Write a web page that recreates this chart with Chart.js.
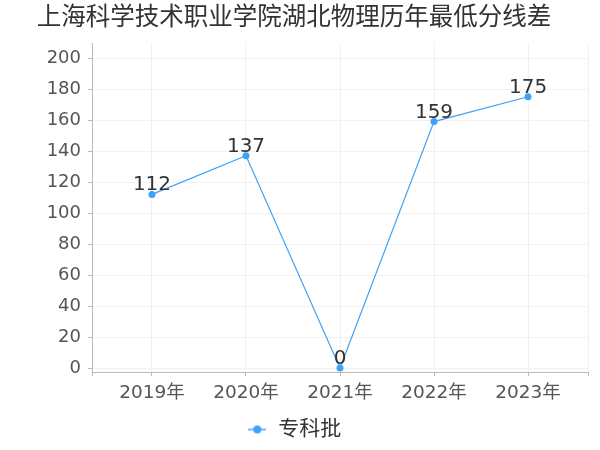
<!DOCTYPE html>
<html>
<head>
<meta charset="utf-8">
<script src="https://cdn.jsdelivr.net/npm/chart.js@4"></script>
<style>
    html, body { margin: 0; padding: 0; background: #fff; }
    #wrap { width: 600px; height: 450px; }
</style>
</head>
<body>
<div id="wrap"><canvas id="chart"></canvas></div>
<script>
const titleText = "上海科学技术职业学院湖北物理历年最低分线差";
const years = ["2019年", "2020年", "2021年", "2022年", "2023年"];
const seriesName = "专科批";
const seriesValues = [112, 137, 0, 159, 175];
const yTicks = [0, 20, 40, 60, 80, 100, 120, 140, 160, 180, 200];

const fontFamily = '"DejaVu Sans", "Noto Sans CJK SC", sans-serif';
const blue = "#3fa2f7";
const edge = 0.638;

// little line+dot marker for the legend
function legendMarker() {
    let c = document.createElement("canvas");
    c.width = 18;
    c.height = 10;
    let g = c.getContext("2d");
    g.strokeStyle = blue;
    g.lineWidth = 1.5;
    g.beginPath();
    g.moveTo(0, 5);
    g.lineTo(18, 5);
    g.stroke();
    g.fillStyle = blue;
    g.beginPath();
    g.arc(9, 5, 4, 0, Math.PI * 2);
    g.fill();
    return c;
}

const valueLabels = {
    id: "valueLabels",
    afterDatasetsDraw(chart) {
        let ctx = chart.ctx;
        let meta = chart.getDatasetMeta(0);
        ctx.save();
        ctx.font = "20px " + fontFamily;
        ctx.fillStyle = "#333";
        ctx.textAlign = "center";
        ctx.textBaseline = "alphabetic";
        meta.data.forEach((pt, i) => {
            ctx.fillText(String(seriesValues[i]), pt.x, pt.y - 4);
        });
        ctx.restore();
    }
};

let points = seriesValues.map((v, i) => ({ x: i, y: v }));

new Chart(document.getElementById("chart"), {
    type: "line",
    data: {
        datasets: [{
            label: seriesName,
            data: points,
            borderColor: blue,
            backgroundColor: blue,
            borderWidth: 1.2,
            pointRadius: 3.5,
            pointBackgroundColor: blue,
            pointBorderWidth: 0,
            tension: 0,
            pointStyle: "circle"
        }]
    },
    options: {
        responsive: true,
        maintainAspectRatio: false,
        animation: false,
        layout: { padding: { left: 0, right: 12, top: 0, bottom: 0 } },
        scales: {
            x: {
                type: "linear",
                min: -edge,
                max: years.length - 1 + edge,
                afterBuildTicks: scale => {
                    scale.ticks = [-edge, ...years.map((y, i) => i), years.length - 1 + edge].map(v => ({ value: v }));
                },
                afterFit: scale => { scale.height = 46; },
                grid: { color: "#f1f1f1", tickColor: "#bbb", tickLength: 4 },
                border: { color: "#bbb" },
                ticks: {
                    autoSkip: false,
                    maxRotation: 0,
                    padding: 6,
                    color: "#555",
                    font: { size: 18.5, family: fontFamily },
                    callback: v => Number.isInteger(v) ? years[v] : ""
                }
            },
            y: {
                min: -2.58,
                max: 209.68,
                afterBuildTicks: scale => { scale.ticks = yTicks.map(v => ({ value: v })); },
                afterFit: scale => { scale.width = 92; },
                grid: { color: "#f1f1f1", tickColor: "#bbb", tickLength: 4 },
                border: { color: "#bbb" },
                ticks: {
                    padding: 7,
                    color: "#555",
                    font: { size: 18, family: fontFamily }
                }
            }
        },
        plugins: {
            title: {
                display: true,
                text: titleText,
                color: "#333",
                font: { size: 24.5, weight: "normal", family: fontFamily },
                padding: { top: 4, bottom: 9.6 }
            },
            legend: {
                position: "bottom",
                labels: {
                    usePointStyle: true,
                    pointStyle: legendMarker(),
                    color: "#333",
                    font: { size: 21, family: fontFamily },
                    padding: 1
                }
            },
            tooltip: { enabled: false }
        }
    },
    plugins: [valueLabels]
});
</script>
</body>
</html>
